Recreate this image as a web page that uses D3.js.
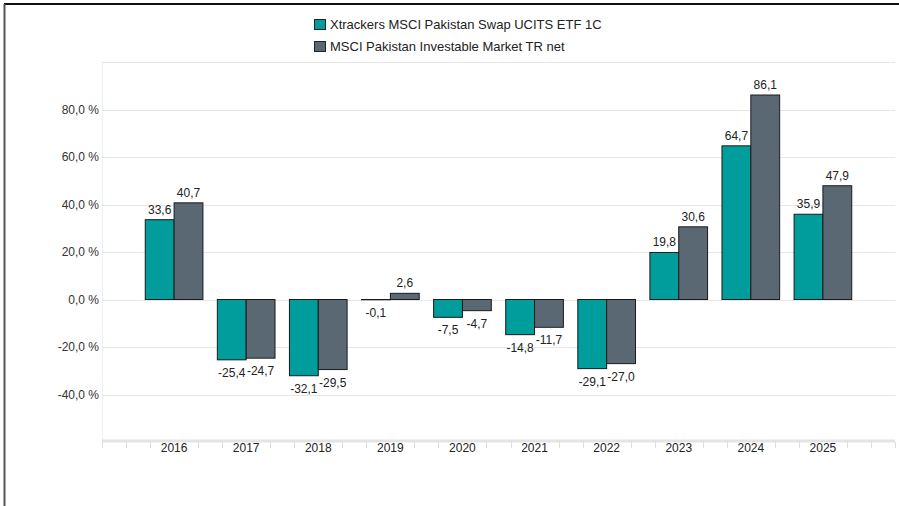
<html>
<head>
  <meta charset="utf-8">
  <style>
    body { margin: 0; background: #fff; }
    svg { display: block; font-family: "Liberation Sans", Arial, sans-serif; }
  </style>
</head>
<body>
  <div id="chart"></div>
  <script src="https://d3js.org/d3.v7.min.js"></script>
  <script>
  'use strict';

  var years = [2016, 2017, 2018, 2019, 2020, 2021, 2022, 2023, 2024, 2025];
  var etf = [33.6, -25.4, -32.1, -0.1, -7.5, -14.8, -29.1, 19.8, 64.7, 35.9];
  var index = [40.7, -24.7, -29.5, 2.6, -4.7, -11.7, -27.0, 30.6, 86.1, 47.9];
  var seriesNames = ['Xtrackers MSCI Pakistan Swap UCITS ETF 1C', 'MSCI Pakistan Investable Market TR net'];
  var seriesColors = ['#019c9c', '#5a6874'];
  var yTicks = [-40, -20, 0, 20, 40, 60, 80];
  var gridTicks = [-40, -20, 0, 20, 40, 60, 80, 100];

  var W = 899, H = 506;
  var de = d3.formatLocale({ decimal: ',', thousands: '.', grouping: [3], currency: ['', ' €'], minus: '-' });
  var f1 = de.format('.1f');

  var svg = d3.select('#chart').append('svg').attr('width', W).attr('height', H);

  var x = d3.scaleLinear().domain([2015, 2026]).range([102, 895]);
  var y = d3.scaleLinear().domain([-60, 100]).range([442, 62]);
  var bw = (x(1) - x(0)) * 0.4;

  // frame
  svg.append('line').attr('x1', 4).attr('x2', W).attr('y1', 4).attr('y2', 4)
    .attr('stroke', '#111').attr('stroke-width', 2);
  svg.append('line').attr('x1', 4.5).attr('x2', 4.5).attr('y1', 4).attr('y2', H)
    .attr('stroke', '#555').attr('stroke-width', 2);

  // grid
  svg.append('line').attr('x1', 102.5).attr('x2', 102.5).attr('y1', y(100)).attr('y2', y(-60))
    .attr('stroke', '#f0f0f0');
  svg.append('g').selectAll('line').data(gridTicks).join('line')
    .attr('x1', 102).attr('x2', 895)
    .attr('y1', function(d) { return Math.round(y(d)) + 0.5; })
    .attr('y2', function(d) { return Math.round(y(d)) + 0.5; })
    .attr('stroke', '#e6e6e6');

  // y labels
  svg.append('g').selectAll('text').data(yTicks).join('text')
    .attr('x', 99).attr('y', function(d) { return y(d) + 4; })
    .attr('text-anchor', 'end').attr('font-size', 12).attr('fill', '#333')
    .text(function(d) { return f1(d) + ' %'; });

  // x axis
  var minor = d3.range(0, 34).map(function(i) { return 2015 + i / 3; })
    .filter(function(v) { return years.indexOf(Math.round(v * 1000) / 1000) < 0; });
  var xa = svg.append('g');
  xa.append('line').attr('x1', 102).attr('x2', 895).attr('y1', 441).attr('y2', 441)
    .attr('stroke', '#e4e4e4').attr('stroke-width', 3);
  xa.selectAll('line.t').data(minor).join('line').attr('class', 't')
    .attr('x1', function(d) { return Math.round(x(d)) + 0.5; })
    .attr('x2', function(d) { return Math.round(x(d)) + 0.5; })
    .attr('y1', 442).attr('y2', 448).attr('stroke', '#dcdcdc');
  xa.selectAll('text').data(years).join('text')
    .attr('x', function(d) { return x(d); }).attr('y', 452)
    .attr('text-anchor', 'middle').attr('font-size', 12).attr('fill', '#222')
    .text(function(d) { return d; });

  // bars
  [etf, index].forEach(function(vals, s) {
    var g = svg.append('g');
    g.selectAll('rect').data(vals).join('rect')
      .attr('x', function(d, i) { return x(years[i]) - bw + s * bw; })
      .attr('width', bw)
      .attr('y', function(d) { return y(Math.max(0, d)); })
      .attr('height', function(d) { return Math.abs(y(d) - y(0)); })
      .attr('fill', seriesColors[s]).attr('stroke', '#1a1a1a').attr('stroke-width', 1);
    g.selectAll('text').data(vals).join('text')
      .attr('x', function(d, i) { return x(years[i]) - bw / 2 + s * bw; })
      .attr('y', function(d) { return d >= 0 ? y(d) - 6 : y(d) + 17; })
      .attr('text-anchor', 'middle').attr('font-size', 12).attr('fill', '#222')
      .text(function(d) { return f1(d); });
  });

  // legend
  var lg = svg.append('g');
  seriesNames.forEach(function(n, i) {
    lg.append('rect').attr('x', 314.5).attr('y', 19.5 + i * 22).attr('width', 11).attr('height', 10)
      .attr('fill', seriesColors[i]).attr('stroke', '#222');
    lg.append('text').attr('x', 330).attr('y', 28.5 + i * 22)
      .attr('font-size', 13).attr('fill', '#222').text(n);
  });
  </script>
</body>
</html>
